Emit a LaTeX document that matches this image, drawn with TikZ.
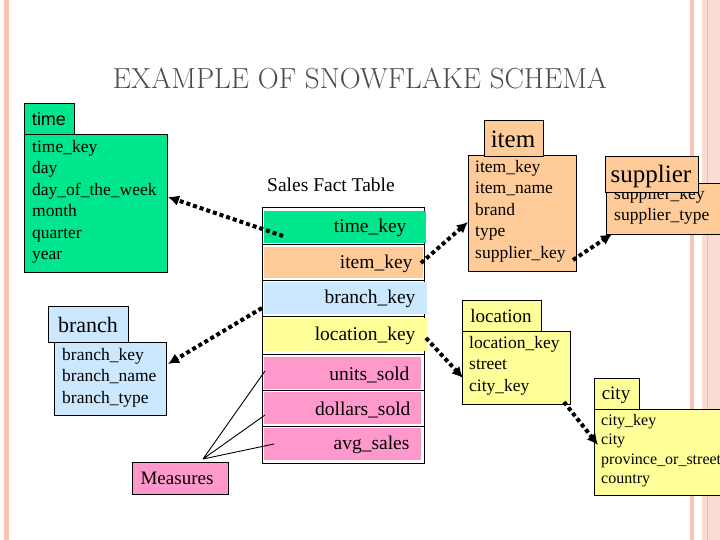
\documentclass[tikz,border=0pt]{standalone}
\usepackage{fontspec}
\setmainfont{Liberation Serif}
\newfontfamily\hsans{Liberation Sans}
\newfontfamily\lmtitle{Latin Modern Roman}
\usetikzlibrary{arrows.meta}
\definecolor{tgreen}{RGB}{0,230,140}
\definecolor{torange}{RGB}{255,204,153}
\definecolor{tblue}{RGB}{204,232,255}
\definecolor{tyellow}{RGB}{255,255,153}
\definecolor{tpink}{RGB}{255,153,204}
\definecolor{salmon}{RGB}{248,196,180}
\begin{document}
\begin{tikzpicture}[x=1pt,y=-1pt,
  box/.style={draw=black,line width=0.8pt},
  lines/.style={anchor=north west,align=left,inner sep=0pt,font=\fontsize{17.5}{21.5}\selectfont},
  rowtxt/.style={anchor=east,font=\fontsize{19.5}{22}\selectfont},
  dotarrow/.style={line width=4pt,dash pattern=on 4pt off 3pt,-{Latex[length=11pt,width=11pt]}}]
\useasboundingbox (0,0) rectangle (720,540);
\fill[white] (0,0) rectangle (720,540);
% borders
\fill[salmon] (4,0) rectangle (9,540);
\fill[salmon] (690,0) rectangle (694,540);
\fill[salmon!60] (702,0) rectangle (720,540);
\draw[salmon!120,line width=1pt] (707,0) -- (707,540);
% title
\node[font=\lmtitle\fontsize{29}{32}\selectfont,text=black!70] (title) at (360,78) {EXAMPLE OF SNOWFLAKE SCHEMA};
% time
\fill[tgreen,box] (24,134) rectangle (167,272);
\fill[tgreen,box] (24,103) rectangle (74,134);
\node[font=\hsans\fontsize{18}{20}\selectfont] (timeh) at (49,119) {time};
\node[lines] (timeb) at (32,140) {time\_key\\day\\day\_of\_the\_week\\month\\quarter\\year};
\coordinate (timeA) at (168,197);
% fact table
\node[font=\fontsize{19.5}{22}\selectfont] (ftitle) at (331,185) {Sales Fact Table};
\draw[box,fill=white] (262,207) rectangle (424,463);
\fill[tgreen] (264,211) rectangle (426,243);
\fill[torange] (264,247) rectangle (423,278);
\fill[tblue] (264,282) rectangle (427,314);
\fill[tyellow] (264,318) rectangle (427,351);
\fill[tpink] (264,357) rectangle (421,389);
\fill[tpink] (264,392) rectangle (421,424);
\fill[tpink] (264,428) rectangle (421,460);
\foreach \y in {244,280,316,354,390,426} \draw[line width=1pt] (262,\y) -- (424,\y);
\node[rowtxt] (fk1) at (410,228) {time\_key};
\node[rowtxt] (fk2) at (416,264) {item\_key};
\node[rowtxt] (fk3) at (419,299) {branch\_key};
\node[rowtxt] (fk4) at (419,336) {location\_key};
\node[rowtxt] (fk5) at (413,375) {units\_sold};
\node[rowtxt] (fk6) at (414,410) {dollars\_sold};
\node[rowtxt] (fk7) at (413,445) {avg\_sales};
\coordinate (f1) at (283,236);
\coordinate (f2) at (421,263);
\coordinate (f3) at (262,308);
\coordinate (f4) at (426,338);
% branch
\fill[tblue,box] (54,342) rectangle (166,415);
\fill[tblue,box] (48,306) rectangle (128,342);
\node[font=\fontsize{22}{24}\selectfont] (branchh) at (88,325) {branch};
\node[lines] (branchb) at (62,348) {branch\_key\\branch\_name\\branch\_type};
\coordinate (branchA) at (168,364);
% measures
\fill[tpink,box] (132,462) rectangle (228,494);
\node[font=\fontsize{19}{20}\selectfont] (meas) at (177,478) {Measures};
\coordinate (mtop) at (203,459);
\coordinate (m1) at (265,371);
\coordinate (m2) at (265,415);
\coordinate (m3) at (274,444);
\draw[line width=0.9pt] (mtop) -- (m1) (mtop) -- (m2) (mtop) -- (m3);
% item
\fill[torange,box] (468,155) rectangle (576,271);
\fill[torange,box] (484,120) rectangle (543,156);
\node[font=\fontsize{25}{26}\selectfont] (itemh) at (513,139) {item};
\node[lines] (itemb) at (475,160) {item\_key\\item\_name\\brand\\type\\supplier\_key};
\coordinate (itemA) at (468,222);
\coordinate (supK) at (573,260);
% supplier
\fill[torange,box] (606,183) rectangle (722,234);
\fill[torange,box] (605,156) rectangle (698,192);
\node[font=\fontsize{25}{26}\selectfont] (suph) at (651,176) {supplier};
\node[lines] (supb) at (614,187) {supplier\_key\\supplier\_type};
\fill[torange,draw=black,line width=0.8pt] (605,156) rectangle (698,192);
\node[font=\fontsize{25}{26}\selectfont] at (651,176) {supplier};
\coordinate (supA) at (612,234);
% location
\fill[tyellow,box] (462,331) rectangle (570,404);
\fill[tyellow,box] (462,300) rectangle (541,331);
\node[font=\fontsize{19}{20}\selectfont] (loch) at (501,316) {location};
\node[lines] (locb) at (469,336) {location\_key\\street\\city\_key};
\coordinate (locA) at (463,378);
\coordinate (locC) at (564,402);
% city
\fill[tyellow,box] (594,409) rectangle (722,495);
\fill[tyellow,box] (594,378) rectangle (639,409);
\node[font=\fontsize{19}{20}\selectfont] (cityh) at (616,395) {city};
\node[lines,font=\fontsize{16}{19.5}\selectfont] (cityb) at (601,414) {city\_key\\city\\province\_or\_street\\country};
\coordinate (cityA) at (598,445);
% arrows
\draw[dotarrow] (f1) -- (timeA);
\draw[dotarrow] (f2) -- (itemA);
\draw[dotarrow] (f3) -- (branchA);
\draw[dotarrow] (f4) -- (locA);
\draw[dotarrow] (supK) -- (supA);
\draw[dotarrow] (locC) -- (cityA);
\end{tikzpicture}
\end{document}
